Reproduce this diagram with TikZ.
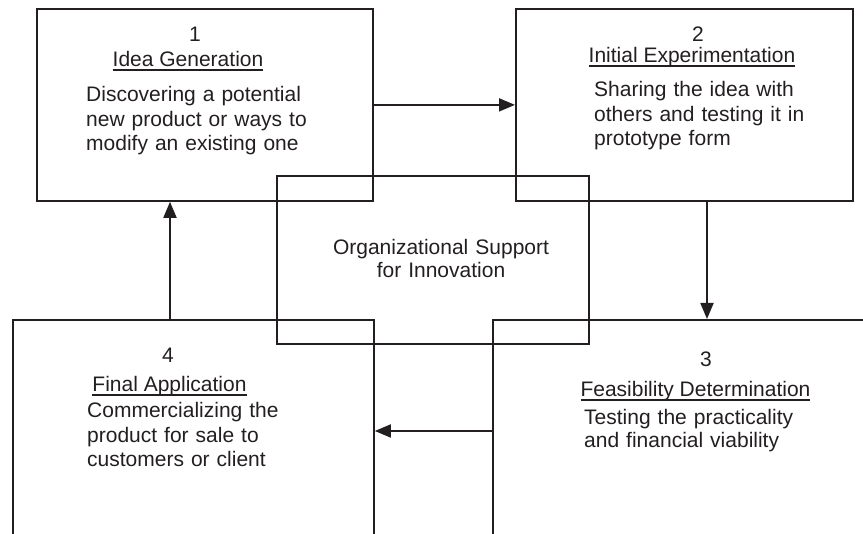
\documentclass[tikz,border=0pt]{standalone}
\usepackage{fontspec}
\setmainfont{Liberation Sans}
\usetikzlibrary{arrows.meta}
\definecolor{ink}{HTML}{231F20}
\newcommand\myul[1]{\leavevmode\setbox0\hbox{#1}\rlap{\rule[-3.6pt]{\wd0}{1.4pt}}\box0}
\begin{document}
\begin{tikzpicture}[x=1pt,y=-1pt,
  box/.style={draw=ink, line width=1.8pt, rectangle, anchor=north west, inner sep=0pt},
  txt/.style={text=ink, inner sep=0pt, font=\fontsize{21}{24.5}\selectfont},
  body/.style={txt, anchor=base west, text width=280pt, align=left},
  ttl/.style={txt, anchor=base},
  arr/.style={draw=ink, line width=1.8pt, -{Triangle[length=16pt,width=13pt]}}
]
\useasboundingbox (0,0) rectangle (863,534);
\clip (0,0) rectangle (863,534);
% boxes
\node[box, minimum width=336pt, minimum height=192pt] (b1) at (36,8) {};
\node[box, minimum width=337pt, minimum height=192pt] (b2) at (515,8) {};
\node[box, minimum width=312pt, minimum height=168pt] (bc) at (276,175) {};
\node[box, minimum width=361pt, minimum height=260pt] (b4) at (12,319) {};
\node[box, minimum width=420pt, minimum height=260pt] (b3) at (492,319) {};
% texts box 1
\node[ttl] (n1) at (195,42) {1};
\node[ttl] (t1) at (188,67) {\myul{Idea Generation}};
\node[body] (d1) at (86,102) {Discovering a potential\\new product or ways to\\modify an existing one};
% box 2
\node[ttl] (n2) at (698,42) {2};
\node[ttl] (t2) at (692,63) {\myul{Initial Experimentation}};
\node[body] (d2) at (594,97) {Sharing the idea with\\others and testing it in\\prototype form};
% box 4
\node[ttl] (n4) at (168,363) {4};
\node[ttl] (t4) at (169.5,392) {\myul{Final Application}};
\node[body] (d4) at (87,418) {Commercializing the\\product for sale to\\customers or client};
% box 3
\node[ttl] (n3) at (706,367) {3};
\node[ttl] (t3) at (695.5,397) {\myul{Feasibility Determination}};
\node[body, font=\fontsize{21}{23}\selectfont] (d3) at (584,425) {Testing the practicality\\and financial viability};
% center
\node[txt, anchor=base, text width=300pt, align=center, font=\fontsize{21}{23}\selectfont] (dc) at (441,255) {Organizational Support\\for Innovation};
% arrows
\coordinate (a23) at (707,0);
\coordinate (a41) at (170,0);
\coordinate (a34) at (0,431);
\draw[arr] (b1.east) -- (b2.west);
\draw[arr] (b2.south -| a23) -- (b3.north -| a23);
\draw[arr] (b3.west |- a34) -- (b4.east |- a34);
\draw[arr] (b4.north -| a41) -- (b1.south -| a41);
\end{tikzpicture}
\end{document}
